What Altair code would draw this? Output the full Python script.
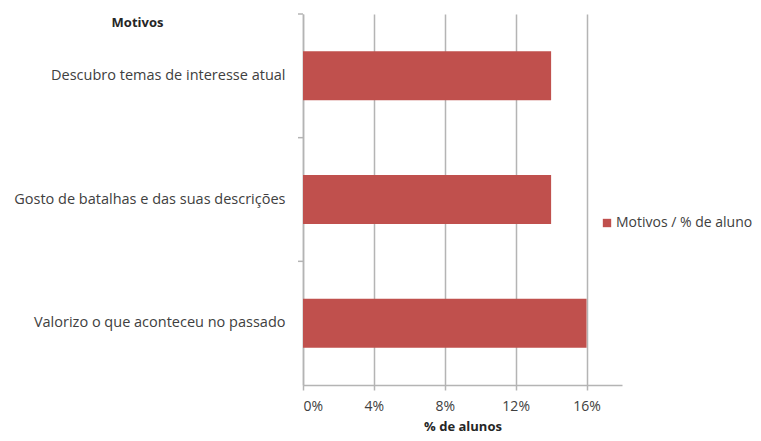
import altair as alt
import pandas as pd

categories = ["Descubro temas de interesse atual",
              "Gosto de batalhas e das suas descrições",
              "Valorizo o que aconteceu no passado"]
values = [0.14, 0.14, 0.16]
series_name = "Motivos / % de aluno"
x_ticks = [0, 0.04, 0.08, 0.12, 0.16]

df = pd.DataFrame({"motivo": categories, "valor": values, "serie": [series_name] * len(categories)})

FONT = "Open Sans"
TXT = "#404040"
GRID = "#B4B4B4"

yscale = alt.Scale(domain=categories, paddingInner=0, paddingOuter=0)

bars = alt.Chart(df).mark_bar(size=49).encode(
    x=alt.X("valor:Q",
            scale=alt.Scale(domain=[0, 0.18], nice=False),
            axis=alt.Axis(values=x_ticks, format=".0%", title="% de alunos",
                          grid=True, gridColor=GRID, gridWidth=1.5,
                          domainColor=GRID, domainWidth=1.5,
                          tickColor=GRID, tickWidth=1.5, tickSize=5,
                          labelPadding=9, labelFontSize=14, labelColor=TXT, labelFont=FONT,
                          titleFont=FONT, titleFontSize=13, titleFontWeight="bold", titleColor="#262626",
                          titlePadding=7)),
    y=alt.Y("motivo:N", sort=categories, scale=yscale,
            axis=alt.Axis(title="Motivos", ticks=False, grid=False,
                          domainColor=GRID, domainWidth=1.5,
                          labelPadding=18, labelFontSize=14.5, labelColor=TXT, labelFont=FONT,
                          labelLimit=320,
                          titleFont=FONT, titleFontSize=13, titleFontWeight="bold", titleColor="#262626",
                          titleAngle=0, titleX=-166, titleY=8, titleAlign="center",
                          titleBaseline="middle")),
    color=alt.Color("serie:N", scale=alt.Scale(range=["#C0504D"]),
                    legend=alt.Legend(title=None, orient="none", legendX=297, legendY=202,
                                      symbolType="square", symbolSize=70, symbolStrokeWidth=0,
                                      labelFont=FONT, labelFontSize=14, labelColor=TXT,
                                      labelLimit=300, padding=0, labelOffset=2))
)

ticks = alt.Chart(df).mark_rule(color=GRID, strokeWidth=1.5).encode(
    y=alt.Y("motivo:N", sort=categories, scale=yscale, bandPosition=0),
    x=alt.value(-5),
    x2=alt.value(0),
)

chart = alt.layer(bars, ticks).properties(
    width=319, height=371,
    padding={"left": 303, "top": 14, "right": 139, "bottom": 56},
    autosize=alt.AutoSizeParams(type="none"),
    background="white",
).configure_view(stroke=None)

chart.save("out.html", embed_options={"renderer": "svg", "actions": False})
